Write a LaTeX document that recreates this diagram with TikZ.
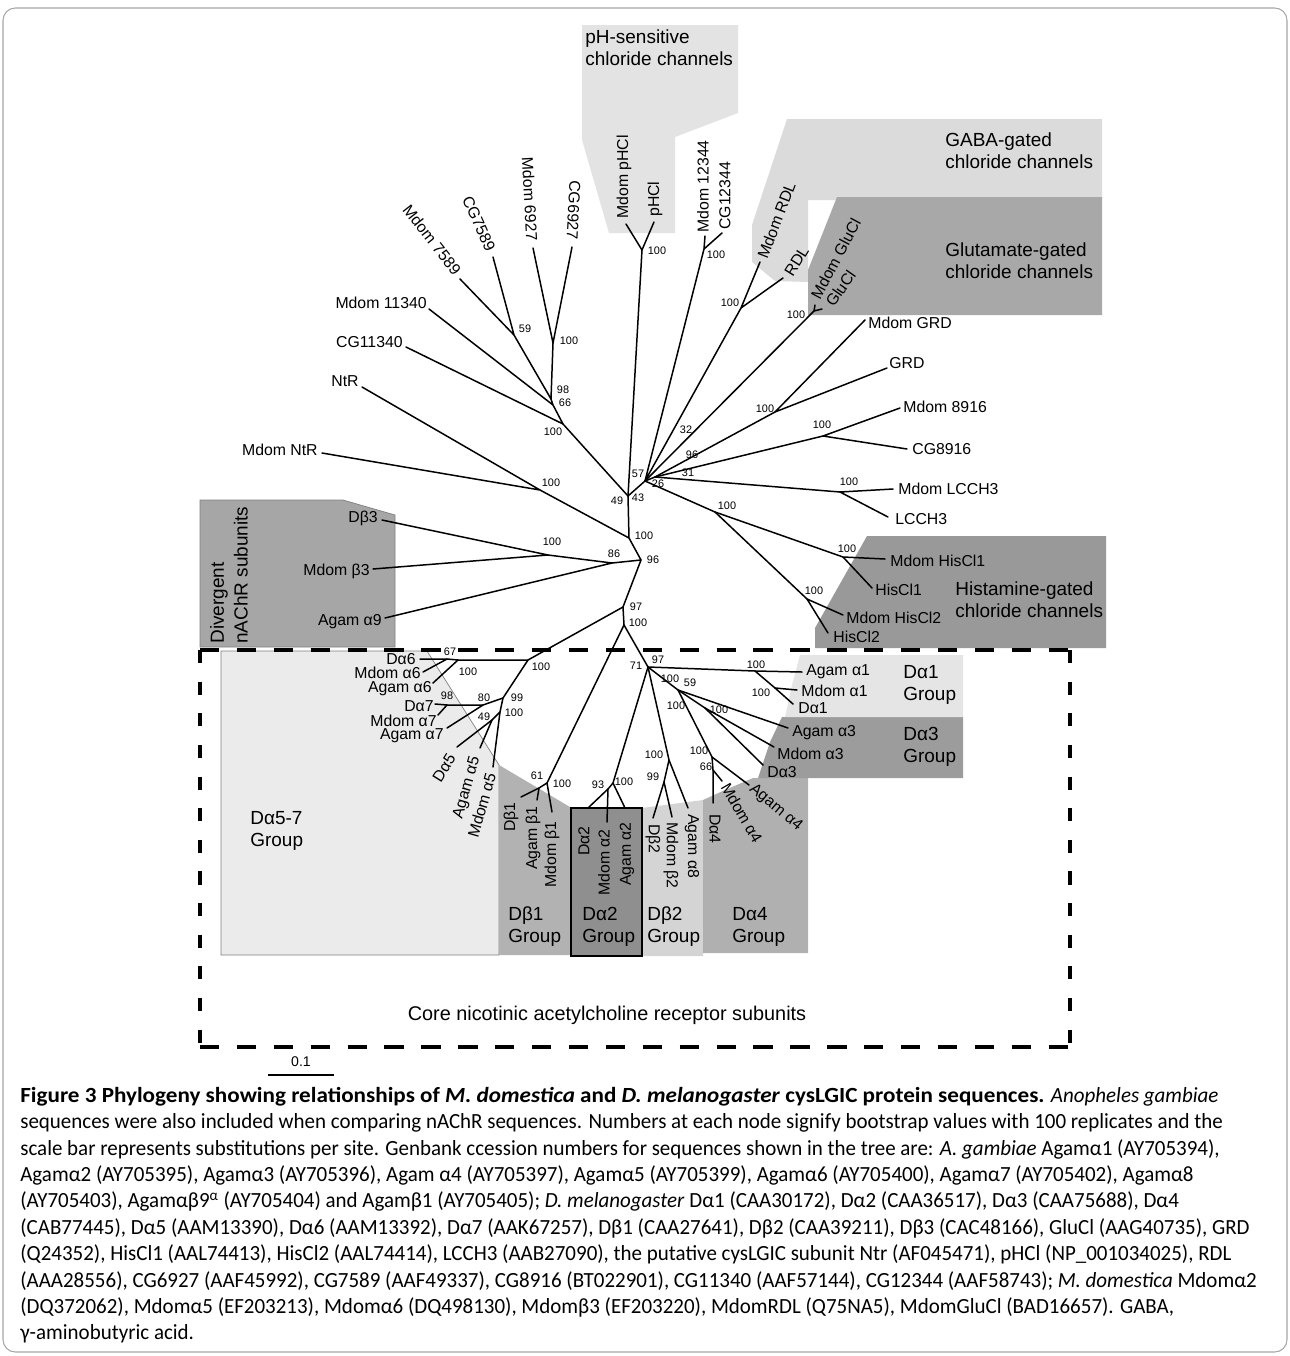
\documentclass[tikz,border=0pt]{standalone}
\usepackage{fontspec}
\setmainfont{Liberation Sans}
\newfontfamily\capfont{Carlito}[FakeStretch=0.97]
\newfontfamily\captitle{Carlito}[FakeStretch=1.07]
\usepackage{tikz}

\definecolor{phgray}{gray}{0.89}
\definecolor{gabagray}{gray}{0.86}
\definecolor{glugray}{gray}{0.66}
\definecolor{hisgray}{gray}{0.60}
\definecolor{divgray}{gray}{0.65}
\definecolor{afivegray}{gray}{0.92}
\definecolor{bonegray}{gray}{0.70}
\definecolor{atwogray}{gray}{0.56}
\definecolor{btwogray}{gray}{0.83}
\definecolor{afourgray}{gray}{0.69}
\definecolor{athreegray}{gray}{0.61}
\definecolor{aonegray}{gray}{0.90}

\begin{document}
\begin{tikzpicture}[x=0.02cm, y=-0.02cm]
    % Styles
    \tikzstyle{branch} = [line width=0.85pt, line join=round, line cap=round]
    \tikzstyle{taxon} = [font=\fontsize{9}{10}\selectfont, inner sep=0pt]
    \tikzstyle{boot} = [font=\fontsize{6.2}{7}\selectfont, inner sep=0pt]
    \tikzstyle{grouptext} = [font=\fontsize{10.8}{12.5}\selectfont, align=left, inner sep=0pt, anchor=west]
    \tikzstyle{coredash} = [line width=2.2pt, dash pattern=on 11pt off 10pt]
    \tikzstyle{coredashv} = [line width=2.2pt, dash pattern=on 7.5pt off 10.5pt]

    \useasboundingbox (0,0) rectangle (1290,1356);
    \draw[gray!70, line width=0.6pt, rounded corners=7pt] (3,8) rectangle (1287,1352);

    % Group boxes
    \fill[phgray] (582,25) -- (738,25) -- (738,113) -- (675,137) -- (675,233) -- (609,233) -- (582,140) -- cycle;
    \fill[gabagray] (787,119) -- (1102,119) -- (1102,200) -- (808,200) -- (808,282) -- (775,281) -- (752,262) -- (752,225) -- cycle;
    \fill[glugray] (837,197) -- (1102,197) -- (1102,315) -- (808,315) -- (808,270) -- cycle;
    \fill[hisgray] (867,536) -- (1106,536) -- (1106,648) -- (815,648) -- (815,628) -- cycle;
    \filldraw[divgray, draw=gray] (200,500) -- (343,500) -- (395,515) -- (395,647) -- (200,647) -- cycle;
    \filldraw[afivegray, draw=gray] (221,651) -- (427,651) -- (499,765) -- (499,955) -- (221,955) -- cycle;
    \fill[bonegray] (499,765) -- (570,807) -- (570,955) -- (499,955) -- cycle;
    \fill[btwogray] (642,808) -- (703,800) -- (703,956) -- (642,956) -- cycle;
    \fill[afourgray] (703,800) -- (725,790) -- (753,778) -- (808,778) -- (808,953) -- (703,953) -- cycle;
    \fill[athreegray] (758,778) -- (963,778) -- (963,717) -- (782,717) -- (770,742) -- cycle;
    \fill[aonegray] (785,717) -- (963,717) -- (963,655) -- (800,655) -- (792,685) -- cycle;
    \filldraw[atwogray, draw=black, line width=0.6pt] (571,808) rectangle (642,956);

    % Group labels
    \node[grouptext] (gph) at (585,48) {pH-sensitive\\chloride channels};
    \node[grouptext] (ggaba) at (945,151) {GABA-gated\\chloride channels};
    \node[grouptext] (gglu) at (945,261) {Glutamate-gated\\chloride channels};
    \node[grouptext] (ghis) at (955,600) {Histamine-gated\\chloride channels};
    \node[grouptext, rotate=90, font=\fontsize{10.8}{13.5}\selectfont] (gdiv) at (229,644) {Divergent\\nAChR subunits};
    \node[grouptext] (ga57) at (250,831) {Dα5-7\\Group};
    \node[grouptext] (gb1) at (508,927) {Dβ1\\Group};
    \node[grouptext] (ga2) at (582,927) {Dα2\\Group};
    \node[grouptext] (gb2) at (647,927) {Dβ2\\Group};
    \node[grouptext] (ga4) at (732,927) {Dα4\\Group};
    \node[grouptext] (ga1) at (903,685) {Dα1\\Group};
    \node[grouptext] (ga3) at (903,747) {Dα3\\Group};

    % Inner nodes of the tree
    \coordinate (n59) at (514,335);
    \coordinate (n6927) at (553,343);
    \coordinate (n98) at (551,399);
    \coordinate (n66) at (553,405);
    \coordinate (n11340) at (563,424);
    \coordinate (nph) at (642,250);
    \coordinate (n49) at (628,496);
    \coordinate (nb) at (645,481);
    \coordinate (nc) at (655,477);
    \coordinate (n12344) at (704,249);
    \coordinate (nrdl) at (741,308);
    \coordinate (nglucl) at (814,311);
    \coordinate (ngrd) at (775,412);
    \coordinate (n8916) at (823,436);
    \coordinate (nlcch) at (840,492);
    \coordinate (nhis) at (715,512);
    \coordinate (nhis1) at (843,557);
    \coordinate (nhis2) at (807,599);
    \coordinate (nntr) at (540,490);
    \coordinate (nmid) at (629,538);
    \coordinate (n96) at (641,560);
    \coordinate (nb3) at (548,555);
    \coordinate (n86) at (612,563);
    \coordinate (n97) at (623,607);
    \coordinate (ncore) at (624,625);
    \coordinate (na6) at (528,660);
    \coordinate (na6b) at (458,660);
    \coordinate (na6c) at (447,659);
    \coordinate (n99) at (503,698);
    \coordinate (n80) at (483,705);
    \coordinate (na7) at (447,705);
    \coordinate (na5) at (500,712);
    \coordinate (na5b) at (492,720);
    \coordinate (nbeta1) at (547,783);
    \coordinate (nbeta1b) at (539,788);
    \coordinate (n97b) at (648,667);
    \coordinate (na2) at (613,783);
    \coordinate (na2b) at (608,789);
    \coordinate (na1) at (755,671);
    \coordinate (na1b) at (775,688);
    \coordinate (nbeta2) at (669,760);
    \coordinate (nbeta2b) at (664,782);
    \coordinate (n59b) at (678,690);
    \coordinate (na3) at (705,708);
    \coordinate (na4) at (712,757);
    \coordinate (na4b) at (713,770);

    % Leaf ends
    \coordinate (l11340m) at (429,309);
    \coordinate (l11340) at (406,347);
    \coordinate (lntr) at (362,387);
    \coordinate (lntrm) at (322,453);
    \coordinate (l7589m) at (460,279);
    \coordinate (l7589) at (493,257);
    \coordinate (l6927m) at (533,248);
    \coordinate (l6927) at (572,247);
    \coordinate (lphm) at (626,224);
    \coordinate (lph) at (654,222);
    \coordinate (l12344m) at (705,236);
    \coordinate (l12344) at (722,233);
    \coordinate (lrdlm) at (760,262);
    \coordinate (lrdl) at (783,278);
    \coordinate (lglum) at (815,305);
    \coordinate (lglu) at (822,309);
    \coordinate (lgrdm) at (865,320);
    \coordinate (lgrd) at (887,368);
    \coordinate (l8916m) at (900,408);
    \coordinate (l8916) at (907,449);
    \coordinate (llcchm) at (893,489);
    \coordinate (llcch) at (888,517);
    \coordinate (lhis1m) at (885,559);
    \coordinate (lhis1) at (872,588);
    \coordinate (lhis2m) at (843,615);
    \coordinate (lhis2) at (828,633);
    \coordinate (lb3) at (382,520);
    \coordinate (lb3m) at (373,569);
    \coordinate (la9) at (385,618);
    \coordinate (la6) at (420,659);
    \coordinate (la6m) at (423,672);
    \coordinate (la6a) at (433,683);
    \coordinate (la7) at (435,704);
    \coordinate (la7m) at (438,715);
    \coordinate (la7a) at (447,728);
    \coordinate (la5) at (457,747);
    \coordinate (la5a) at (480,748);
    \coordinate (la5m) at (493,767);
    \coordinate (lb1) at (521,797);
    \coordinate (lb1a) at (537,800);
    \coordinate (lb1m) at (552,812);
    \coordinate (la2) at (588,808);
    \coordinate (la2m) at (607,822);
    \coordinate (la2a) at (625,808);
    \coordinate (lb2) at (653,818);
    \coordinate (lb2m) at (672,817);
    \coordinate (la8) at (688,808);
    \coordinate (la4) at (713,803);
    \coordinate (la4m) at (722,781);
    \coordinate (la4a) at (749,785);
    \coordinate (la3a) at (788,728);
    \coordinate (la3m) at (774,747);
    \coordinate (la3) at (763,765);
    \coordinate (la1a) at (802,672);
    \coordinate (la1m) at (797,690);
    \coordinate (la1) at (793,704);

    % Branches
    \draw[branch] (l7589m) -- (n59) -- (l7589);
    \draw[branch] (l6927m) -- (n6927) -- (l6927);
    \draw[branch] (n59) -- (n98) -- (n6927);
    \draw[branch] (n98) -- (n66) -- (l11340m);
    \draw[branch] (n66) -- (n11340) -- (l11340);
    \draw[branch] (n11340) -- (n49);
    \draw[branch] (lphm) -- (nph) -- (lph);
    \draw[branch] (nph) -- (n49) -- (nb);
    \draw[branch] (l12344m) -- (n12344) -- (l12344);
    \draw[branch] (n12344) -- (nb) -- (nrdl);
    \draw[branch] (lrdlm) -- (nrdl) -- (lrdl);
    \draw[branch] (nb) -- (nglucl);
    \draw[branch] (lglum) -- (nglucl) -- (lglu);
    \draw[branch] (nb) -- (nc) -- (ngrd);
    \draw[branch] (lgrdm) -- (ngrd) -- (lgrd);
    \draw[branch] (nc) -- (n8916);
    \draw[branch] (l8916m) -- (n8916) -- (l8916);
    \draw[branch] (nc) -- (nlcch);
    \draw[branch] (llcchm) -- (nlcch) -- (llcch);
    \draw[branch] (nb) -- (nhis) -- (nhis1);
    \draw[branch] (nhis) -- (nhis2);
    \draw[branch] (lhis1m) -- (nhis1) -- (lhis1);
    \draw[branch] (lhis2m) -- (nhis2) -- (lhis2);
    \draw[branch] (lntr) -- (nntr) -- (lntrm);
    \draw[branch] (nntr) -- (nmid);
    \draw[branch] (n49) -- (nmid) -- (n96);
    \draw[branch] (lb3) -- (nb3) -- (lb3m);
    \draw[branch] (nb3) -- (n86) -- (la9);
    \draw[branch] (n86) -- (n96) -- (n97) -- (ncore);
    \draw[branch] (n97) -- (na6) -- (na6b) -- (na6c) -- (la6);
    \draw[branch] (la6m) -- (na6c);
    \draw[branch] (la6a) -- (na6b);
    \draw[branch] (na6) -- (n99) -- (n80) -- (na7) -- (la7);
    \draw[branch] (la7m) -- (na7);
    \draw[branch] (la7a) -- (n80);
    \draw[branch] (n99) -- (na5) -- (la5m);
    \draw[branch] (na5) -- (na5b) -- (la5);
    \draw[branch] (na5b) -- (la5a);
    \draw[branch] (ncore) -- (nbeta1) -- (nbeta1b) -- (lb1);
    \draw[branch] (nbeta1b) -- (lb1a);
    \draw[branch] (nbeta1) -- (lb1m);
    \draw[branch] (ncore) -- (n97b) -- (na2) -- (na2b) -- (la2);
    \draw[branch] (na2b) -- (la2m);
    \draw[branch] (na2) -- (la2a);
    \draw[branch] (n97b) -- (na1) -- (la1a);
    \draw[branch] (na1) -- (na1b) -- (la1);
    \draw[branch] (na1b) -- (la1m);
    \draw[branch] (n97b) -- (nbeta2) -- (la8);
    \draw[branch] (nbeta2) -- (nbeta2b) -- (lb2);
    \draw[branch] (nbeta2b) -- (lb2m);
    \draw[branch] (n97b) -- (n59b) -- (la3a);
    \draw[branch] (n59b) -- (na3) -- (la3m);
    \draw[branch] (na3) -- (la3);
    \draw[branch] (n59b) -- (na4) -- (la4a);
    \draw[branch] (na4) -- (na4b) -- (la4);
    \draw[branch] (na4b) -- (la4m);

    % Taxon names
    \node[taxon, anchor=east] (t11340m) at (427,303) {Mdom 11340};
    \node[taxon, anchor=east] (t11340) at (403,342) {CG11340};
    \node[taxon, anchor=east] (tntr) at (359,381) {NtR};
    \node[taxon, anchor=east] (tntrm) at (318,450) {Mdom NtR};
    \node[taxon, anchor=east, rotate=-52] (t7589m) at (458,273) {Mdom 7589};
    \node[taxon, anchor=east, rotate=-66] (t7589) at (491,251) {CG7589};
    \node[taxon, anchor=east, rotate=-87] (t6927m) at (532,241) {Mdom 6927};
    \node[taxon, anchor=east, rotate=-93] (t6927) at (572,240) {CG6927};
    \node[taxon, anchor=west, rotate=90] (tphm) at (624,219) {Mdom pHCl};
    \node[taxon, anchor=west, rotate=90] (tph) at (655,217) {pHCl};
    \node[taxon, anchor=west, rotate=90] (t12344m) at (703,233) {Mdom 12344};
    \node[taxon, anchor=west, rotate=90] (t12344) at (725,230) {CG12344};
    \node[taxon, anchor=west, rotate=69] (trdlm) at (762,258) {Mdom RDL};
    \node[taxon, anchor=west, rotate=58] (trdl) at (788,275) {RDL};
    \node[taxon, anchor=west, rotate=62] (tglum) at (815,298) {Mdom GluCl};
    \node[taxon, anchor=west, rotate=55] (tglu) at (829,305) {GluCl};
    \node[taxon, anchor=west] (tgrdm) at (868,323) {Mdom GRD};
    \node[taxon, anchor=west] (tgrd) at (889,363) {GRD};
    \node[taxon, anchor=west] (t8916m) at (903,407) {Mdom 8916};
    \node[taxon, anchor=west] (t8916) at (912,449) {CG8916};
    \node[taxon, anchor=west] (tlcchm) at (898,489) {Mdom LCCH3};
    \node[taxon, anchor=west] (tlcch) at (895,519) {LCCH3};
    \node[taxon, anchor=west] (this1m) at (890,561) {Mdom HisCl1};
    \node[taxon, anchor=west] (this1) at (875,590) {HisCl1};
    \node[taxon, anchor=west] (this2m) at (846,618) {Mdom HisCl2};
    \node[taxon, anchor=west] (this2) at (833,637) {HisCl2};
    \node[taxon, anchor=east] (tb3) at (378,518) {Dβ3};
    \node[taxon, anchor=east] (tb3m) at (370,571) {Mdom β3};
    \node[taxon, anchor=east] (ta9) at (382,622) {Agam α9};
    \node[taxon, anchor=east] (ta6) at (416,659) {Dα6};
    \node[taxon, anchor=east] (ta6m) at (421,673) {Mdom α6};
    \node[taxon, anchor=east] (ta6a) at (432,689) {Agam α6};
    \node[taxon, anchor=east] (ta7) at (434,706) {Dα7};
    \node[taxon, anchor=east] (ta7m) at (437,721) {Mdom α7};
    \node[taxon, anchor=east] (ta7a) at (444,736) {Agam α7};
    \node[taxon, anchor=east, rotate=58] (ta5) at (452,755) {Dα5};
    \node[taxon, anchor=east, rotate=74] (ta5a) at (476,757) {Agam α5};
    \node[taxon, anchor=east, rotate=74] (ta5m) at (491,773) {Mdom α5};
    \node[taxon, anchor=east, rotate=90] (tb1) at (511,802) {Dβ1};
    \node[taxon, anchor=east, rotate=90] (tb1a) at (533,806) {Agam β1};
    \node[taxon, anchor=east, rotate=90] (tb1m) at (552,821) {Mdom β1};
    \node[taxon, anchor=east, rotate=90] (ta2) at (584,826) {Dα2};
    \node[taxon, anchor=east, rotate=90] (ta2m) at (604,829) {Mdom α2};
    \node[taxon, anchor=east, rotate=90] (ta2a) at (627,822) {Agam α2};
    \node[taxon, anchor=west, rotate=-90] (tb2) at (653,824) {Dβ2};
    \node[taxon, anchor=west, rotate=-90] (tb2m) at (671,822) {Mdom β2};
    \node[taxon, anchor=west, rotate=-90] (ta8) at (692,814) {Agam α8};
    \node[taxon, anchor=west, rotate=-90] (ta4) at (715,814) {Dα4};
    \node[taxon, anchor=west, rotate=-60] (ta4m) at (725,784) {Mdom α4};
    \node[taxon, anchor=west, rotate=-40] (ta4a) at (751,787) {Agam α4};
    \node[taxon, anchor=west] (ta3a) at (792,733) {Agam α3};
    \node[taxon, anchor=west] (ta3m) at (777,754) {Mdom α3};
    \node[taxon, anchor=west] (ta3) at (767,772) {Dα3};
    \node[taxon, anchor=west] (ta1a) at (806,672) {Agam α1};
    \node[taxon, anchor=west] (ta1m) at (801,691) {Mdom α1};
    \node[taxon, anchor=west] (ta1) at (798,708) {Dα1};

    % Bootstrap values
    \foreach \bx/\by/\bv [count=\i] in {525/329/59, 569/341/100, 563/390/98, 565/403/66, 553/432/100,
        657/251/100, 716/255/100, 730/303/100, 796/315/100, 765/409/100, 686/430/32, 692/455/96,
        688/473/31, 658/484/26, 638/474/57, 638/498/43, 617/501/49, 822/425/100, 849/482/100,
        727/506/100, 847/549/100, 814/591/100, 551/483/100, 644/536/100, 552/542/100, 614/554/86,
        653/560/96, 636/607/97, 638/623/100, 450/652/67, 468/672/100, 541/667/100, 517/698/99,
        514/713/100, 447/696/98, 484/698/80, 484/717/49, 537/776/61, 562/784/100, 598/785/93,
        624/782/100, 636/666/71, 658/660/97, 670/679/100, 690/683/59, 676/706/100, 719/710/100,
        756/665/100, 761/693/100, 654/755/100, 653/777/99, 699/751/100, 706/767/66}
        \node[boot] (bs\i) at (\bx,\by) {\bv};

    % Core nAChR box
    \coordinate (core-nw) at (200,650);
    \coordinate (core-ne) at (1070,650);
    \coordinate (core-se) at (1070,1047);
    \coordinate (core-sw) at (200,1047);
    \draw[coredash] (core-nw) -- (core-ne);
    \draw[coredash] (core-sw) -- (core-se);
    \draw[coredashv] (core-nw) -- (core-sw);
    \draw[coredashv] (core-ne) -- (core-se);
    \node[font=\fontsize{11.3}{13}\selectfont] (corelbl) at (607,1015) {Core nicotinic acetylcholine receptor subunits};

    % Scale bar
    \coordinate (sb-l) at (268,1075);
    \coordinate (sb-r) at (334,1075);
    \draw[line width=0.8pt] (sb-l) -- (sb-r);
    \node[font=\fontsize{8}{9}\selectfont] (sblbl) at (301,1062) {0.1};

    % Caption
    \node[anchor=north west, align=left, inner sep=0pt, font=\capfont\fontsize{12.3}{15}\selectfont] (caption) at (20,1087) {%
{\captitle\bfseries Figure 3 Phylogeny showing relationships of \textit{M. domestica} and \textit{D. melanogaster} cysLGIC protein sequences.} \textit{Anopheles gambiae}\\
sequences were also included when comparing nAChR sequences. Numbers at each node signify bootstrap values with 100 replicates and the\\
scale bar represents substitutions per site. Genbank ccession numbers for sequences shown in the tree are: \textit{A. gambiae} Agamα1 (AY705394),\\
Agamα2 (AY705395), Agamα3 (AY705396), Agam α4 (AY705397), Agamα5 (AY705399), Agamα6 (AY705400), Agamα7 (AY705402), Agamα8\\
(AY705403), Agamαβ9\textsuperscript{α} (AY705404) and Agamβ1 (AY705405); \textit{D. melanogaster} Dα1 (CAA30172), Dα2 (CAA36517), Dα3 (CAA75688), Dα4\\
(CAB77445), Dα5 (AAM13390), Dα6 (AAM13392), Dα7 (AAK67257), Dβ1 (CAA27641), Dβ2 (CAA39211), Dβ3 (CAC48166), GluCl (AAG40735), GRD\\
(Q24352), HisCl1 (AAL74413), HisCl2 (AAL74414), LCCH3 (AAB27090), the putative cysLGIC subunit Ntr (AF045471), pHCl (NP\_001034025), RDL\\
(AAA28556), CG6927 (AAF45992), CG7589 (AAF49337), CG8916 (BT022901), CG11340 (AAF57144), CG12344 (AAF58743); \textit{M. domestica} Mdomα2\\
(DQ372062), Mdomα5 (EF203213), Mdomα6 (DQ498130), Mdomβ3 (EF203220), MdomRDL (Q75NA5), MdomGluCl (BAD16657). GABA,\\
γ-aminobutyric acid.};
\end{tikzpicture}
\end{document}
